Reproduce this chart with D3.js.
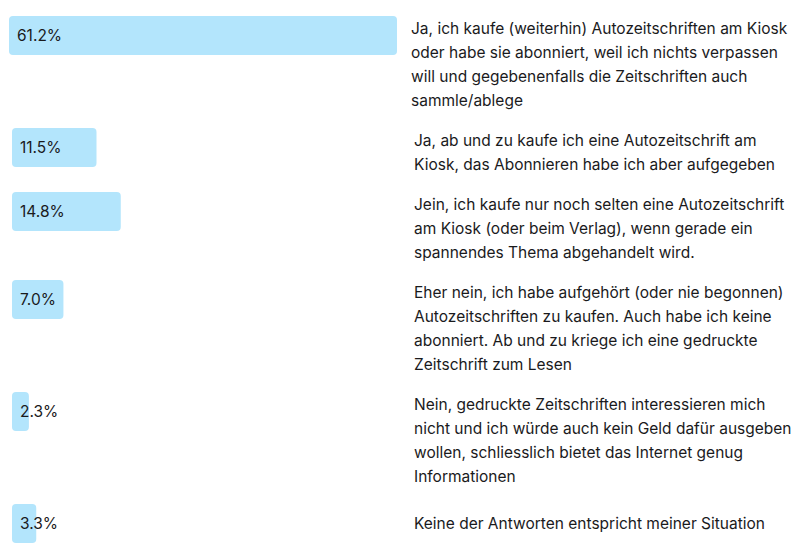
<!DOCTYPE html>
<html>
<head>
<meta charset="utf-8">
<script src="https://cdn.jsdelivr.net/npm/d3@7"></script>
<style>
  html, body { margin: 0; padding: 0; background: #ffffff; }
  svg { display: block; }
  text { font-family: Inter, "Noto Sans", "Liberation Sans", sans-serif; fill: #1a1a1c; }
</style>
</head>
<body>
<svg id="chart" width="800" height="558"></svg>
<script>
// ---- data ----
const values = [61.2, 11.5, 14.8, 7.0, 2.3, 3.3];
const valueLabels = ["61.2%", "11.5%", "14.8%", "7.0%", "2.3%", "3.3%"];
const answers = [
  ["Ja, ich kaufe (weiterhin) Autozeitschriften am Kiosk",
   "oder habe sie abonniert, weil ich nichts verpassen",
   "will und gegebenenfalls die Zeitschriften auch",
   "sammle/ablege"],
  ["Ja, ab und zu kaufe ich eine Autozeitschrift am",
   "Kiosk, das Abonnieren habe ich aber aufgegeben"],
  ["Jein, ich kaufe nur noch selten eine Autozeitschrift",
   "am Kiosk (oder beim Verlag), wenn gerade ein",
   "spannendes Thema abgehandelt wird."],
  ["Eher nein, ich habe aufgehört (oder nie begonnen)",
   "Autozeitschriften zu kaufen. Auch habe ich keine",
   "abonniert. Ab und zu kriege ich eine gedruckte",
   "Zeitschrift zum Lesen"],
  ["Nein, gedruckte Zeitschriften interessieren mich",
   "nicht und ich würde auch kein Geld dafür ausgeben",
   "wollen, schliesslich bietet das Internet genug",
   "Informationen"],
  ["Keine der Antworten entspricht meiner Situation"]
];

// ---- layout ----
const barX = 12, textX = 414, barH = 39, lineH = 24, rowGap = 16, top0 = 16;
const x = d3.scaleLinear().domain([0, 52.8]).range([0, 388]).clamp(true);

const rows = [];
let y = top0;
values.forEach((v, i) => {
  const n = answers[i].length;
  const blockH = Math.max(barH + 1, n * lineH);
  rows.push({ v, label: valueLabels[i], lines: answers[i], y,
              shift: i === 0 ? -3 : 0,
              textTop: y + Math.max(0, (barH + 1 - n * lineH) / 2) + (n > 1 ? 0.5 : 0) });
  y += blockH + rowGap;
});

const svg = d3.select("#chart");
const g = svg.selectAll("g.row").data(rows).enter().append("g")
  .attr("class", "row")
  .attr("transform", d => `translate(${d.shift},0)`);

g.append("rect")
  .attr("x", barX)
  .attr("y", d => d.y)
  .attr("width", d => x(d.v))
  .attr("height", barH)
  .attr("rx", 4).attr("ry", 4)
  .attr("fill", "#b3e5fc");

g.append("text")
  .attr("x", barX + 8)
  .attr("y", d => d.y + barH / 2)
  .attr("dy", "0.35em")
  .style("font-size", "15.5px")
  .text(d => d.label);

g.each(function(d) {
  const t = d3.select(this).append("text")
    .style("font-size", "15.5px");
  t.selectAll("tspan").data(d.lines).enter().append("tspan")
    .attr("x", textX)
    .attr("y", (l, j) => d.textTop + j * lineH + lineH / 2)
    .attr("dy", "0.35em")
    .text(l => l);
});
</script>
</body>
</html>
